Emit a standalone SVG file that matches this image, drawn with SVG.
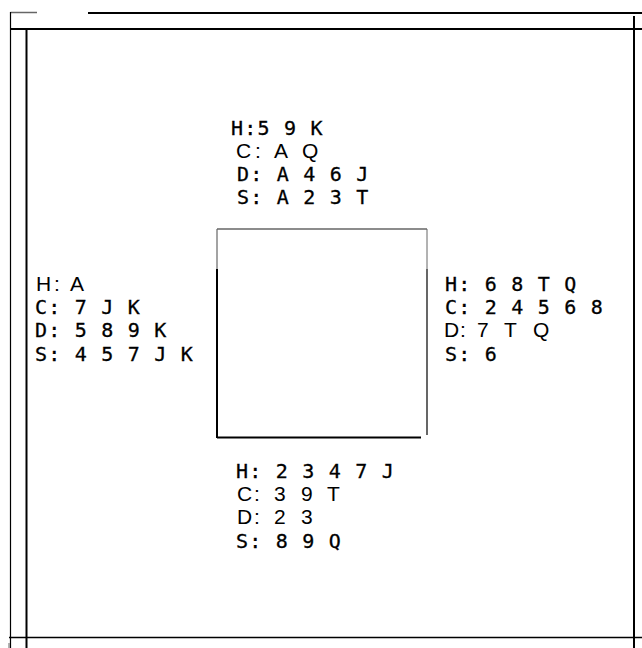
<svg xmlns="http://www.w3.org/2000/svg" width="642" height="648" viewBox="0 0 642 648">
<style>
.t{font-family:"DejaVu Sans Mono","Liberation Mono",monospace;font-size:20px;letter-spacing:1.2px;fill:#000;stroke:#000;stroke-width:0.3;white-space:pre}
.s{font-family:"Liberation Sans",Arial,sans-serif;font-size:21px;fill:#000;white-space:pre}
.k{stroke:#000;fill:none}
.g{stroke:#666;fill:none}
</style>
<rect width="642" height="648" fill="#fff"/>
<g id="frame">
<line class="g" x1="10.5" y1="12.5" x2="37" y2="12.5" stroke-width="1.5"/>
<line class="k" x1="88" y1="13" x2="642" y2="13" stroke-width="2"/>
<line class="k" x1="10" y1="29" x2="642" y2="29" stroke-width="2"/>
<line class="k" x1="10.5" y1="12" x2="10.5" y2="648" stroke-width="1.2"/>
<line class="k" x1="26.5" y1="29" x2="26.5" y2="648" stroke-width="2"/>
<line class="k" x1="634" y1="16" x2="634" y2="648" stroke-width="2"/>
<line class="k" x1="9" y1="637.5" x2="642" y2="637.5" stroke-width="1.3"/>
<line class="g" x1="9" y1="643" x2="9" y2="648" stroke-width="1"/>
</g>
<g id="table">
<line class="g" x1="217" y1="229" x2="427" y2="229" stroke-width="1.5"/>
<line class="g" x1="217" y1="229" x2="217" y2="269" stroke-width="1.2"/>
<line class="k" x1="217" y1="269" x2="217" y2="438" stroke-width="2"/>
<line class="g" x1="427" y1="229" x2="427" y2="269" stroke-width="1"/>
<line class="k" x1="427" y1="269" x2="427" y2="435" stroke-width="1.2"/>
<line class="k" x1="217" y1="437.5" x2="421" y2="437.5" stroke-width="2"/>
</g>
<g id="north">
<text class="t" x="231" y="135">H:5 9 K</text>
<text class="s" x="236 255 262 274 290 302" y="158">C: A Q</text>
<text class="t" x="237" y="181">D: A 4 6 J</text>
<text class="t" x="237" y="204">S: A 2 3 T</text>
</g>
<g id="west">
<text class="s" x="36 54 60 70" y="291">H: A</text>
<text class="t" x="35" y="314">C: 7 J K</text>
<text class="t" x="35" y="337">D: 5 8 9 K</text>
<text class="t" x="35" y="361">S: 4 5 7 J K</text>
</g>
<g id="east">
<text class="t" x="445" y="291">H: 6 8 T Q</text>
<text class="t" x="445" y="314">C: 2 4 5 6 8</text>
<text class="s" x="444 460 466 477 490 504 517 533" y="337">D: 7 T Q</text>
<text class="t" x="445" y="361">S: 6</text>
</g>
<g id="south">
<text class="t" x="236" y="478">H: 2 3 4 7 J</text>
<text class="s" x="237 254 260 274 286 301 313 327" y="501">C: 3 9 T</text>
<text class="s" x="237 254 260 274 286 301" y="524">D: 2 3</text>
<text class="t" x="236" y="548">S: 8 9 Q</text>
</g>
</svg>
